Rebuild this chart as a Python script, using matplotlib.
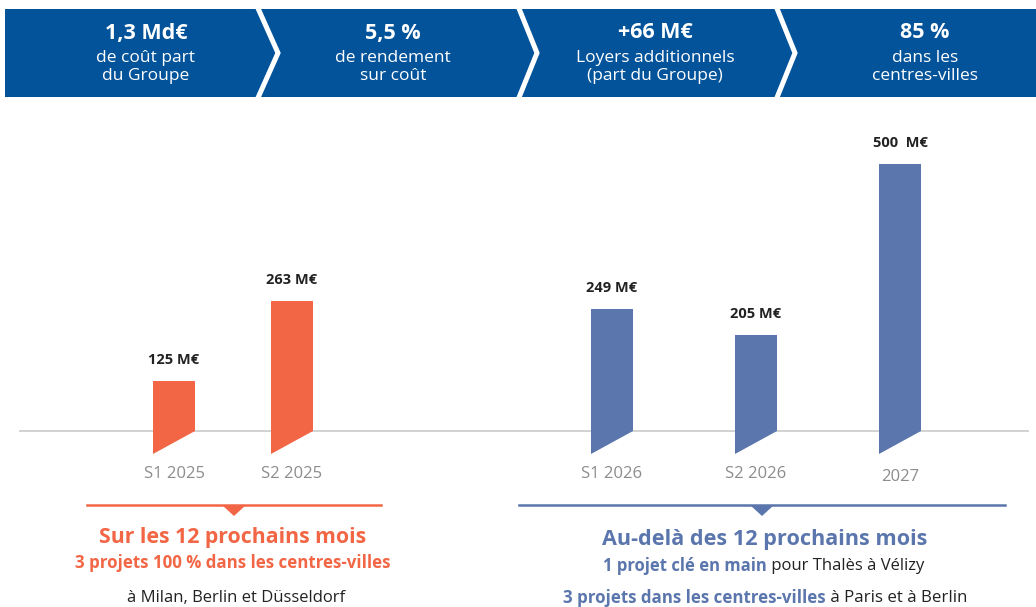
import matplotlib.pyplot as plt
from matplotlib.patches import Rectangle, Polygon

plt.rcParams['font.family'] = ['Open Sans', 'DejaVu Sans']

# data
periods = ['S1 2025', 'S2 2025', 'S1 2026', 'S2 2026', '2027']
amounts = [125, 263, 249, 205, 500]
value_labels = ['125 M€', '263 M€', '249 M€', '205 M€', '500  M€']
groups = ['near', 'near', 'far', 'far', 'far']

kpi_big = ['1,3 Md€', '5,5 %', '+66 M€', '85 %']
kpi_small = ['de coût part\ndu Groupe', 'de rendement\nsur coût',
             'Loyers additionnels\n(part du Groupe)', 'dans les\ncentres-villes']

# styles / layout
ORANGE = '#F26645'
BLUE = '#5B76AD'
NAVY = '#03539A'
DARK = '#222222'
GREY = '#8C8C8C'
colors = {'near': ORANGE, 'far': BLUE}
xpos = [174, 292, 612, 756, 900]
bar_w = 42
base = 40  # where the grey line sits

fig = plt.figure(figsize=(10.36, 6.07), dpi=100)

# bars axes: bottom of the slanted tail = 0
ax = fig.add_axes([0, (607 - 453.7) / 607, 1, 353.7 / 607])
ax.set_xlim(0, 1036)
ax.set_ylim(0, 610)
ax.axis('off')

ax.plot([20, 1028], [base, base], color='#CFCFCF', lw=1.3, zorder=1,
        clip_on=False)
for x, v, lab, per, g in zip(xpos, amounts, value_labels, periods, groups):
    l, r = x - bar_w / 2, x + bar_w / 2
    ax.fill([l, l, r, r], [0, v, v, base], color=colors[g], lw=0, zorder=2)
    ax.text(x, v + 36, lab, ha='center', va='center', fontsize=10.5,
            fontweight='bold', color=DARK)
    ax.text(x, -35 if per != '2027' else -40, per, ha='center', va='center',
            fontsize=12, color=GREY, clip_on=False)

# overlay in pixel coordinates
ov = fig.add_axes([0, 0, 1, 1], zorder=3)
ov.set_xlim(0, 1036)
ov.set_ylim(607, 0)
ov.axis('off')
ov.patch.set_alpha(0)

ov.add_patch(Rectangle((5, 9), 1031, 88, color=NAVY, lw=0))
for top, tip in [(257, 278), (518, 537), (776, 795)]:
    ov.plot([top, tip, top], [6, 53, 100], color='white', lw=3.6,
            solid_joinstyle='miter')

kpi_x = [146, 393, 655, 925]
for x, big, small in zip(kpi_x, kpi_big, kpi_small):
    ov.text(x, 33, big, ha='center', va='center', fontsize=15.5,
            fontweight='bold', color='white')
    ov.text(x, 67, small, ha='center', va='center', fontsize=12.5,
            color='white', linespacing=1.2)

# brackets below the chart
for x0, x1, c in [(87, 381, ORANGE), (519, 1005, BLUE)]:
    ov.plot([x0, x1], [505, 505], color=c, lw=1.8)
    xc = (x0 + x1) / 2
    ov.add_patch(Polygon([(xc - 12, 505), (xc + 12, 505), (xc, 516)],
                         closed=True, color=c, lw=0))

ov.text(233, 538, 'Sur les 12 prochains mois', ha='center', va='center',
        fontsize=15.3, fontweight='bold', color=ORANGE)
ov.text(233, 563, '3 projets 100 % dans les centres-villes', ha='center',
        va='center', fontsize=12.2, fontweight='bold', color=ORANGE)
ov.text(236, 598, 'à Milan, Berlin et Düsseldorf', ha='center', va='center',
        fontsize=12, color=DARK)
ov.text(765, 540, 'Au-delà des 12 prochains mois', ha='center', va='center',
        fontsize=15.6, fontweight='bold', color=BLUE)

fig.canvas.draw()
renderer = fig.canvas.get_renderer()


def mixed(parts, xc, y, size):
    items = []
    for txt, c, w in parts:
        t = ov.text(0, y, txt, ha='left', va='center', fontsize=size,
                    color=c, fontweight=w)
        items.append(t)
    widths = [t.get_window_extent(renderer).width for t in items]
    x = xc - sum(widths) / 2
    for t, wd in zip(items, widths):
        t.set_x(x)
        x += wd


mixed([('1 projet clé en main', BLUE, 'bold'),
       (' pour Thalès à Vélizy', DARK, 'normal')], 764, 566, 12)
mixed([('3 projets dans les centres-villes', BLUE, 'bold'),
       (' à Paris et à Berlin', DARK, 'normal')], 765, 598, 12.2)

fig.savefig('out.png', dpi=100)
